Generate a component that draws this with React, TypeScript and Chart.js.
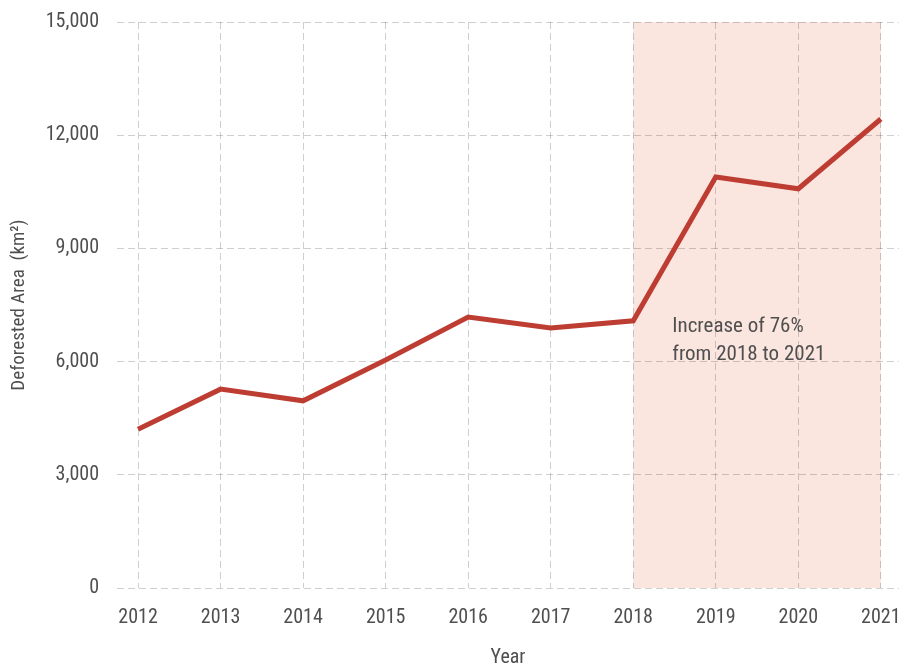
import React, { useEffect, useRef } from "react";
import { Chart, registerables } from "chart.js";

Chart.register(...registerables);

const years = [2012, 2013, 2014, 2015, 2016, 2017, 2018, 2019, 2020, 2021];
const deforested = [4210, 5270, 4960, 6040, 7180, 6890, 7080, 10890, 10580, 12430];
const yTicks = [0, 3000, 6000, 9000, 12000, 15000];
const highlightRange = [2018, 2021];
const annotationLines = ["Increase of 76%", "from 2018 to 2021"];
const yTitle = "Deforested Area  (km²)";
const xTitle = "Year";

const FONT = "'Roboto Condensed', 'Liberation Sans Narrow', 'Open Sans Condensed', Roboto, sans-serif";
const TEXT = "#4f4f4f";
const GRID = "rgba(0,0,0,0.19)";

const shadePlugin = {
  id: "shade",
  beforeDraw(chart: any) {
    const { ctx, scales } = chart;
    const x = scales.x;
    const y = scales.y;
    const x0 = x.getPixelForValue(highlightRange[0]);
    const x1 = x.getPixelForValue(highlightRange[1]);
    const yTop = y.getPixelForValue(y.max);
    const yBot = y.getPixelForValue(y.min);
    ctx.save();
    ctx.fillStyle = "#FBE5DF";
    ctx.fillRect(x0, yTop, x1 - x0, yBot - yTop);
    ctx.restore();
  },
  afterDatasetsDraw(chart: any) {
    const { ctx, scales } = chart;
    const x = scales.x;
    const y = scales.y;
    const left = x.getPixelForValue(highlightRange[0]) + 39;
    const top = y.getPixelForValue(6000) - 35;
    ctx.save();
    ctx.fillStyle = TEXT;
    ctx.font = `400 21px ${FONT}`;
    ctx.textAlign = "left";
    ctx.textBaseline = "middle";
    annotationLines.forEach((line, i) => {
      ctx.fillText(line, left, top + i * 28);
    });
    ctx.restore();
  },
};

export default function App() {
  const ref = useRef<HTMLCanvasElement | null>(null);

  useEffect(() => {
    if (!ref.current) return;
    const chart = new Chart(ref.current, {
      type: "line",
      data: {
        datasets: [
          {
            data: years.map((yr, i) => ({ x: yr, y: deforested[i] })),
            borderColor: "#BE3D33",
            borderWidth: 5,
            pointRadius: 0,
            tension: 0,
            borderJoinStyle: "miter",
            fill: false,
          },
        ],
      },
      options: {
        responsive: false,
        animation: false,
        layout: { padding: { top: 22, right: 0, left: 0, bottom: 0 } },
        plugins: {
          legend: { display: false },
          tooltip: { enabled: false },
        },
        scales: {
          x: {
            type: "linear",
            min: 2011.745,
            max: 2021.22,
            afterBuildTicks: (s: any) => {
              s.ticks = years.map((v) => ({ value: v }));
            },
            afterFit: (s: any) => {
              s.height = 82;
              s.paddingLeft = 0;
              s.paddingRight = 0;
            },
            ticks: {
              callback: (v: any) => String(v),
              font: { family: FONT, size: 20, weight: "400" },
              color: TEXT,
              padding: 18,
              maxRotation: 0,
              autoSkip: false,
            },
            grid: {
              color: GRID,
              drawTicks: false,
              lineWidth: 1,
            },
            border: { display: false, dash: [7, 4] },
            title: {
              display: true,
              text: xTitle,
              font: { family: FONT, size: 20, weight: "400" },
              color: TEXT,
              padding: { top: 0, bottom: 0 },
            },
          },
          y: {
            min: 0,
            max: 15000,
            afterBuildTicks: (s: any) => {
              s.ticks = yTicks.map((v) => ({ value: v }));
            },
            afterFit: (s: any) => {
              s.width = 117;
              s.paddingTop = 0;
              s.paddingBottom = 0;
            },
            ticks: {
              callback: (v: any) => Number(v).toLocaleString("en-US"),
              font: { family: FONT, size: 20, weight: "400" },
              color: TEXT,
              padding: 18,
            },
            grid: {
              color: GRID,
              drawTicks: false,
              lineWidth: 1,
            },
            border: { display: false, dash: [7, 4] },
            title: {
              display: true,
              text: yTitle,
              font: { family: FONT, size: 19, weight: "400" },
              color: TEXT,
              padding: { top: 8, bottom: 0 },
            },
          },
        },
      },
      plugins: [shadePlugin],
    } as any);
    return () => chart.destroy();
  }, []);

  return (
    <canvas
      ref={ref}
      width={899}
      height={670}
      style={{ position: "absolute", left: 0, top: 0, width: 899, height: 670 }}
    />
  );
}
